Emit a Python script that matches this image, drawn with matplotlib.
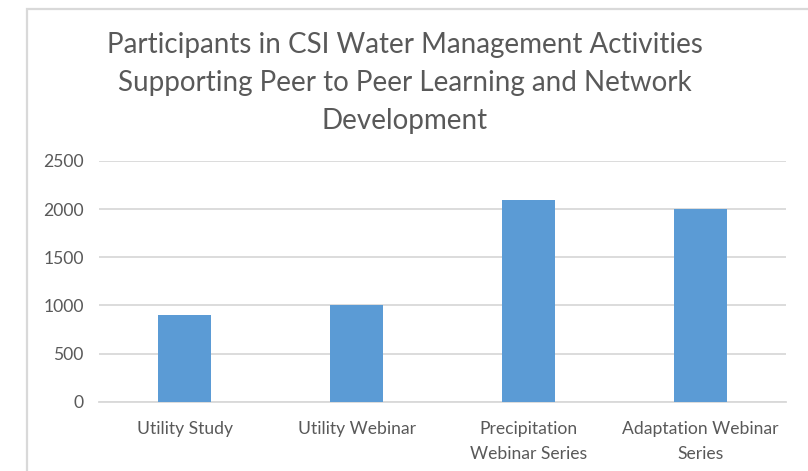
import matplotlib
matplotlib.use("Agg")
import matplotlib.pyplot as plt
from matplotlib.patches import Rectangle

# data
categories = ["Utility Study", "Utility Webinar", "Precipitation\nWebinar Series", "Adaptation Webinar\nSeries"]
participants = [900, 1000, 2100, 2000]
yticks = [0, 500, 1000, 1500, 2000, 2500]

title = ("Participants in CSI Water Management Activities\n"
         "Supporting Peer to Peer Learning and Network\n"
         "Development")

plt.rcParams['font.family'] = ['Lato', 'DejaVu Sans']
text_col = '#595959'
grid_col = '#D9D9D9'

fig = plt.figure(figsize=(8.08, 4.71), dpi=100)
fig.patch.set_facecolor('white')

# chart frame (cropped on the right and bottom in the reference)
frame = Rectangle((27/808, -0.1), 1.2, (471-9)/471 + 0.1, transform=fig.transFigure,
                  fill=False, edgecolor=grid_col, linewidth=1.6)
fig.patches.append(frame)

fig.text(0.501, (471-83)/471, title, ha='center', va='center', fontsize=20,
         color=text_col, linespacing=1.55)

ax = fig.add_axes([99/808, (471-401.7)/471, (786-99)/808, (401.7-161)/471])
x = range(len(categories))
ax.bar(x, participants, width=0.31, color='#5B9BD5', zorder=3)

ax.set_ylim(0, 2500)
ax.set_xlim(-0.5, len(categories) - 0.5)
ax.set_yticks(yticks)
ax.set_xticks(list(x))
ax.set_xticklabels(categories)
ax.yaxis.grid(True, color=grid_col, linewidth=1.3, zorder=0)
ax.set_axisbelow(True)
for s in ['top', 'right', 'left']:
    ax.spines[s].set_visible(False)
ax.spines['bottom'].set_color(grid_col)
ax.spines['bottom'].set_linewidth(1.3)
ax.tick_params(axis='both', length=0, labelsize=12.6, colors=text_col)
ax.tick_params(axis='y', pad=11)
ax.tick_params(axis='x', pad=14)
for lbl in ax.get_xticklabels():
    lbl.set_linespacing(1.65)

fig.savefig("out.png", dpi=100)
